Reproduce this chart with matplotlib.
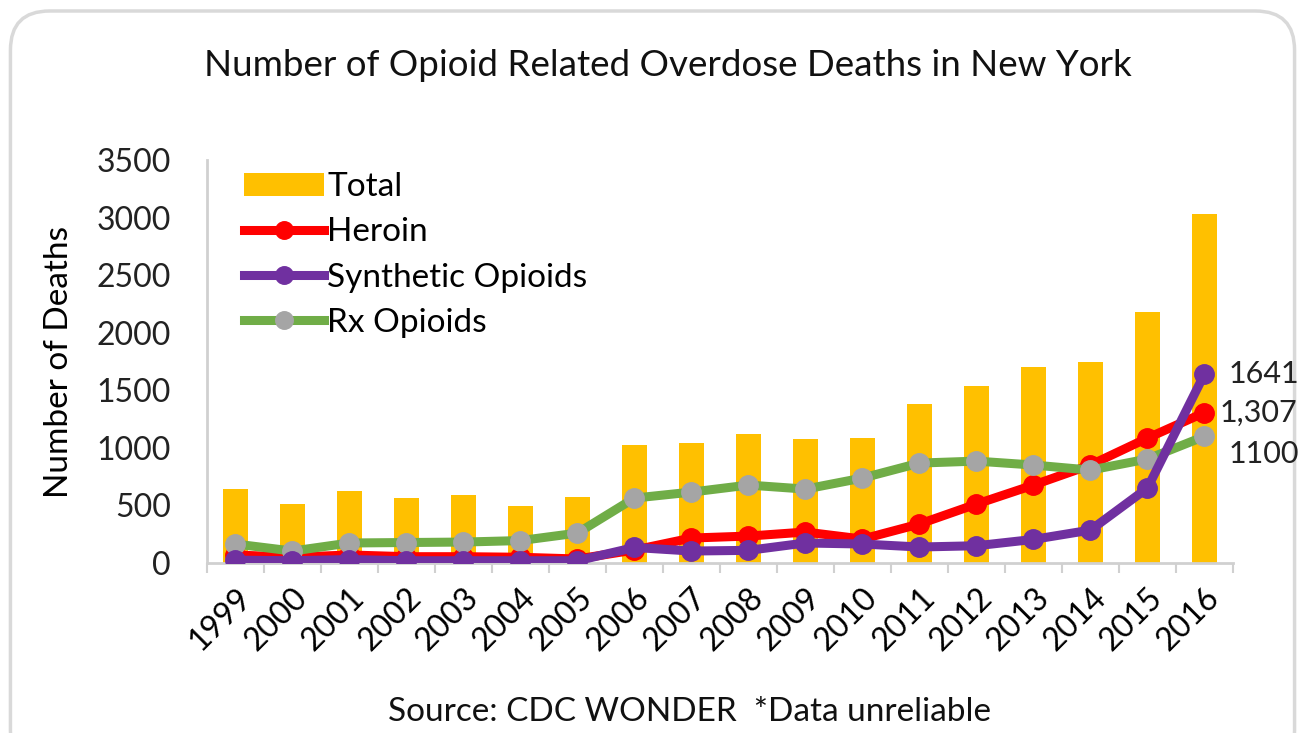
import numpy as np
import matplotlib.pyplot as plt
from matplotlib.patches import FancyBboxPatch

plt.rcParams['font.family'] = ['Lato', 'DejaVu Sans']

years = ['1999', '2000', '2001', '2002', '2003', '2004', '2005', '2006', '2007',
         '2008', '2009', '2010', '2011', '2012', '2013', '2014', '2015', '2016']
total = [640, 512, 625, 564, 590, 495, 573, 1024, 1042, 1120, 1076, 1085,
         1380, 1536, 1701, 1745, 2178, 3029]
heroin = [70, 50, 70, 55, 55, 50, 35, 113, 217, 234, 269, 208,
          339, 512, 677, 851, 1085, 1307]
synthetic = [25, 20, 30, 20, 20, 20, 20, 135, 104, 110, 174, 165,
             139, 150, 205, 286, 651, 1641]
rx = [165, 104, 174, 178, 182, 195, 260, 564, 616, 677, 642, 738,
      868, 885, 851, 807, 903, 1100]
end_labels = ['1641', '1,307', '1100']

x = np.arange(len(years))

fig = plt.figure(figsize=(13.05, 7.33), dpi=100)
fig.patch.set_facecolor('white')

# rounded frame around the chart
frame = FancyBboxPatch((0.008, -0.05), 0.984, 1.035, boxstyle='round,pad=0,rounding_size=0.03',
                       transform=fig.transFigure, facecolor='white', edgecolor='#d9d9d9',
                       linewidth=2.5, mutation_aspect=1305 / 733, zorder=-5)
fig.patches.append(frame)

ax = fig.add_axes([0.1586, 0.2319, 0.7862, 0.5498])
ax.set_facecolor('none')
ax.set_zorder(2)

ax.bar(x, total, width=0.45, color='#FFC000', label='Total', zorder=2)
ax.plot(x, heroin, color='#FF0000', lw=6.5, marker='o', ms=14, mfc='#FF0000', mec='#FF0000',
        label='Heroin', zorder=3)
ax.plot(x, rx, color='#70AD47', lw=6.5, marker='o', ms=14, mfc='#A5A5A5', mec='#A5A5A5',
        label='Rx Opioids', zorder=4)
ax.plot(x, synthetic, color='#7030A0', lw=6.5, marker='o', ms=14, mfc='#7030A0', mec='#7030A0',
        label='Synthetic Opioids', zorder=5)

ax.set_xlim(-0.5, len(years) - 0.5)
ax.set_ylim(0, 3500)
ax.set_yticks(np.arange(0, 3501, 500))
ax.tick_params(axis='y', length=0, labelsize=23, pad=26, colors='#404040', labelcolor='#222222')

ax.set_xticks(x)
ax.set_xticklabels(years, rotation=45, ha='right', rotation_mode='anchor', fontsize=23)
ax.set_xticks(np.arange(-0.5, len(years)), minor=True)
ax.tick_params(axis='x', which='major', length=0, pad=14)
ax.tick_params(axis='x', which='minor', length=7, color='#d0d0d0', width=1.5)

for s in ['top', 'right']:
    ax.spines[s].set_visible(False)
ax.spines['left'].set_color('#d0d0d0')
ax.spines['left'].set_linewidth(2)
ax.spines['bottom'].set_color('#d0d0d0')
ax.spines['bottom'].set_linewidth(2)

ax.set_ylabel('Number of Deaths', fontsize=24, labelpad=16)

# labels for the 2016 values
last = len(years) - 1
ax.annotate(end_labels[0], (x[last], synthetic[-1]), xytext=(17, 0), textcoords='offset points',
            va='center', ha='left', fontsize=22, color='#222222', annotation_clip=False)
ax.annotate(end_labels[1], (x[last], heroin[-1]), xytext=(11, 0), textcoords='offset points',
            va='center', ha='left', fontsize=22, color='#222222', annotation_clip=False)
ax.annotate(end_labels[2], (x[last], rx[-1]), xytext=(17, -13), textcoords='offset points',
            va='center', ha='left', fontsize=22, color='#222222', annotation_clip=False)

handles, labels = ax.get_legend_handles_labels()
order = [labels.index(n) for n in ['Total', 'Heroin', 'Synthetic Opioids', 'Rx Opioids']]
ax.legend([handles[i] for i in order], [labels[i] for i in order], loc='upper left',
          bbox_to_anchor=(0.007, 1.045), frameon=False, fontsize=24, handlelength=2.4,
          handletextpad=0.1, labelspacing=0.46, markerscale=0.9)

fig.text(0.512, 0.91, 'Number of Opioid Related Overdose Deaths in New York', ha='center',
         va='center', fontsize=26.5, color='#111111')
fig.text(0.528, 0.028, 'Source: CDC WONDER  *Data unreliable', ha='center', va='center',
         fontsize=24, color='#111111')

fig.savefig('out.png', dpi=100)
